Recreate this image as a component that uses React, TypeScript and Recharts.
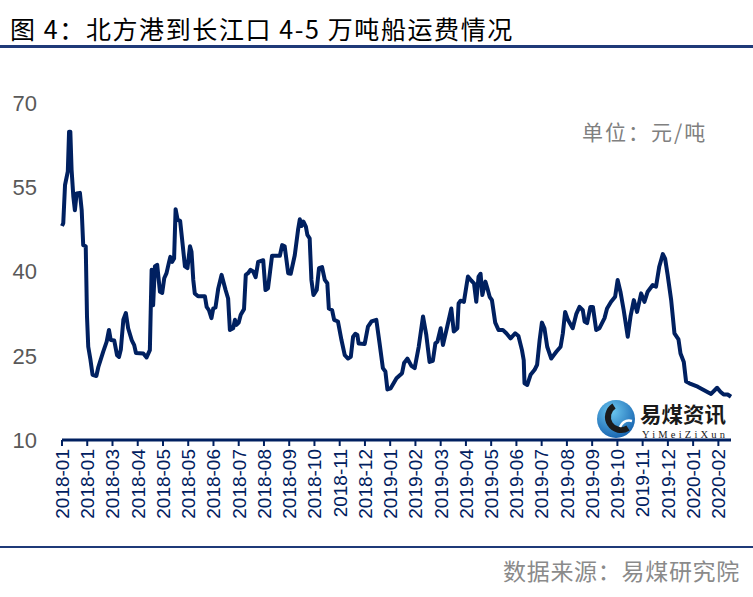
import { LineChart, Line, XAxis, YAxis } from "recharts";

// month labels under the axis, one per tick (as printed in the source, incl. the repeated 2018-01)
const monthLabels = [
  "2018-01", "2018-01", "2018-03", "2018-04", "2018-05", "2018-05", "2018-06",
  "2018-07", "2018-08", "2018-09", "2018-10", "2018-11", "2018-12", "2019-01",
  "2019-02", "2019-03", "2019-04", "2019-05", "2019-06", "2019-07", "2019-08",
  "2019-09", "2019-10", "2019-11", "2019-12", "2020-01", "2020-02"
];

const yTicks = [10, 25, 40, 55, 70];

// position along the axis, measured in tick steps (0 = first label)
const posX = [
  0, 0.05, 0.12, 0.23, 0.28, 0.33, 0.38, 0.45, 0.51, 0.58,
  0.71, 0.78, 0.84, 0.94, 0.99, 1.04, 1.12, 1.21, 1.36, 1.44,
  1.63, 1.77, 1.86, 1.93, 2.07, 2.18, 2.26, 2.33, 2.43, 2.53,
  2.62, 2.76, 2.86, 2.93, 3.22, 3.35, 3.48, 3.55, 3.61, 3.68,
  3.77, 3.88, 3.97, 4.05, 4.14, 4.23, 4.29, 4.36, 4.44, 4.5,
  4.58, 4.68, 4.76, 4.87, 4.97, 5.07, 5.13, 5.2, 5.26, 5.39,
  5.66, 5.73, 5.82, 5.92, 5.99, 6.08, 6.19, 6.32, 6.48, 6.58,
  6.65, 6.78, 6.85, 6.91, 7.0, 7.08, 7.21, 7.28, 7.37, 7.47,
  7.57, 7.67, 7.77, 7.97, 8.06, 8.16, 8.32, 8.63, 8.72, 8.82,
  8.96, 9.06, 9.22, 9.35, 9.42, 9.49, 9.56, 9.66, 9.72, 9.81,
  9.88, 9.96, 10.09, 10.18, 10.3, 10.41, 10.51, 10.57, 10.7, 10.78,
  10.93, 11.07, 11.2, 11.33, 11.44, 11.53, 11.62, 11.7, 11.75, 11.99,
  12.12, 12.26, 12.45, 12.58, 12.71, 12.81, 12.89, 13.02, 13.25, 13.47,
  13.55, 13.68, 13.84, 13.97, 14.13, 14.3, 14.43, 14.56, 14.69, 14.79,
  14.87, 15.0, 15.09, 15.26, 15.42, 15.52, 15.66, 15.71, 15.79, 15.92,
  16.08, 16.21, 16.32, 16.41, 16.5, 16.58, 16.65, 16.77, 16.85, 16.94,
  17.03, 17.16, 17.29, 17.46, 17.6, 17.77, 17.95, 18.08, 18.22, 18.29,
  18.32, 18.43, 18.56, 18.72, 18.82, 18.92, 19.01, 19.11, 19.22, 19.38,
  19.58, 19.75, 19.84, 19.93, 20.04, 20.23, 20.37, 20.5, 20.63, 20.7,
  20.8, 20.93, 21.03, 21.16, 21.29, 21.49, 21.59, 21.75, 21.91, 22.01,
  22.12, 22.25, 22.41, 22.52, 22.65, 22.78, 22.94, 23.07, 23.2, 23.4,
  23.53, 23.66, 23.8, 23.89, 23.99, 24.13, 24.26, 24.42, 24.5, 24.63,
  24.72, 24.85, 25.18, 25.71, 25.95, 26.08, 26.21, 26.37, 26.5
];

// freight, yuan per tonne
const freight = [
  48.1, 48.6, 55.4, 57.8, 64.9, 64.9, 58.1, 53.3, 50.9, 53.9,
  54.0, 50.9, 44.7, 44.5, 32.0, 26.6, 24.5, 21.6, 21.4, 23.0,
  25.7, 27.5, 29.6, 27.8, 27.7, 25.1, 24.8, 26.1, 31.4, 32.6,
  29.9, 27.8, 26.9, 25.5, 25.4, 24.7, 26.0, 40.3, 34.0, 40.9,
  41.2, 36.4, 36.2, 38.8, 39.7, 41.5, 42.6, 41.7, 42.3, 51.1,
  49.2, 49.0, 45.6, 40.9, 40.6, 44.5, 43.5, 38.5, 36.1, 35.6,
  35.6, 33.7, 33.1, 31.7, 33.4, 33.6, 37.0, 39.4, 36.7, 35.2,
  29.6, 29.9, 31.4, 30.5, 30.9, 32.3, 33.3, 39.4, 39.7, 40.3,
  40.0, 39.0, 41.7, 42.0, 36.7, 37.0, 42.8, 42.8, 44.7, 44.5,
  39.7, 39.6, 42.9, 47.4, 49.3, 48.1, 48.9, 48.0, 46.5, 45.9,
  38.5, 35.8, 36.7, 40.6, 40.8, 38.5, 37.9, 33.4, 33.1, 31.4,
  31.1, 27.8, 25.1, 24.5, 24.8, 28.4, 28.9, 28.7, 27.2, 27.1,
  30.2, 31.1, 31.4, 27.2, 22.8, 22.2, 19.0, 19.2, 21.0, 21.9,
  23.7, 24.5, 23.2, 22.8, 26.6, 32.0, 28.7, 23.9, 24.1, 27.2,
  27.5, 29.9, 26.9, 30.2, 33.4, 29.3, 29.9, 34.3, 34.8, 34.6,
  39.1, 38.4, 37.9, 34.6, 39.1, 39.6, 35.8, 38.2, 37.0, 35.5,
  34.9, 30.9, 29.6, 29.6, 29.0, 28.1, 29.0, 28.5, 26.0, 24.2,
  20.1, 19.8, 21.6, 22.5, 23.4, 27.8, 30.9, 29.9, 26.6, 24.5,
  25.7, 26.6, 29.0, 32.8, 31.4, 29.9, 32.4, 33.7, 33.1, 31.1,
  30.8, 33.7, 33.7, 29.6, 29.9, 31.7, 33.4, 34.6, 35.5, 38.5,
  36.4, 33.1, 28.4, 32.0, 34.9, 32.8, 36.1, 34.6, 36.4, 37.6,
  37.3, 40.9, 43.1, 42.3, 39.4, 34.9, 29.0, 27.9, 25.4, 23.9,
  20.4, 20.1, 19.5, 18.2, 19.3, 18.6, 18.1, 18.1, 17.7
];

const NAVY = "#002060";
const sans = "'Liberation Sans', Arial, sans-serif";
const cjk = "'Noto Sans CJK SC', 'Noto Sans', sans-serif";

const rows = posX.map((x, i) => ({ x, freight: freight[i] }));
const xTicks = monthLabels.map((_, i) => i);

function MonthTick(props: any) {
  const { x, y, payload } = props;
  return (
    <text
      x={x}
      y={y}
      dy="0.36em"
      transform={`rotate(-90, ${x}, ${y})`}
      textAnchor="end"
      fill={NAVY}
      fontSize={19}
      fontFamily={sans}
    >
      {monthLabels[Math.round(payload.value)]}
    </text>
  );
}

function Logo() {
  return (
    <svg
      width={140}
      height={46}
      style={{ position: "absolute", left: 594, top: 397 }}
    >
      <defs>
        <radialGradient id="logoBlue" cx="40%" cy="30%" r="75%">
          <stop offset="0" stopColor="#6cc8f0" />
          <stop offset="1" stopColor="#1460ad" />
        </radialGradient>
      </defs>
      <circle cx={22} cy={22} r={19} fill="url(#logoBlue)" />
      <path
        d="M 20 9 A 13 13 0 1 0 34 31"
        stroke="#1b1b1b"
        strokeWidth={6}
        fill="none"
      />
      <path
        d="M 26 30 Q 30 22 38 24"
        stroke="#ffffff"
        strokeWidth={2.5}
        fill="none"
      />
      <text
        x={46}
        y={25}
        fontSize={21}
        fontWeight={700}
        fontFamily={cjk}
        fill="#1a1a1a"
        textLength={86}
        lengthAdjust="spacingAndGlyphs"
      >
        易煤资讯
      </text>
      <text
        x={48}
        y={41}
        fontSize={10.5}
        fontFamily="'Liberation Serif', 'DejaVu Serif', serif"
        fill="#1a1a1a"
        textLength={83}
        lengthAdjust="spacing"
      >
        YiMeiZiXun
      </text>
    </svg>
  );
}

export default function App() {
  return (
    <div
      style={{
        position: "absolute",
        left: 0,
        top: 0,
        width: 753,
        height: 597,
        background: "#fff",
        overflow: "hidden"
      }}
    >
      <div
        style={{
          position: "absolute",
          left: 10,
          top: 10,
          fontSize: 25,
          lineHeight: "36px",
          fontFamily: cjk,
          color: "#000",
          letterSpacing: 1.6,
          whiteSpace: "nowrap"
        }}
      >
        图 4：北方港到长江口 4-5 万吨船运费情况
      </div>
      <div
        style={{
          position: "absolute",
          left: 0,
          top: 45,
          width: 753,
          height: 3,
          background: "#1f3a78"
        }}
      />

      <div style={{ position: "absolute", left: 0, top: 0 }}>
        <LineChart
          width={753}
          height={597}
          data={rows}
          margin={{ top: 103, right: 22, bottom: 0, left: 0 }}
        >
          <XAxis
            dataKey="x"
            type="number"
            domain={[0, 26.5]}
            ticks={xTicks}
            interval={0}
            height={157}
            axisLine={{ stroke: NAVY, strokeWidth: 3 }}
            tickLine={{ stroke: NAVY, strokeWidth: 2 }}
            tickSize={6}
            tickMargin={3}
            tick={<MonthTick />}
          />
          <YAxis
            type="number"
            domain={[10, 70]}
            ticks={yTicks}
            width={62}
            axisLine={false}
            tickLine={false}
            tickSize={6}
            tickMargin={19}
            tick={{ fill: "#595959", fontSize: 22, fontFamily: sans }}
          />
          <Line
            type="linear"
            dataKey="freight"
            stroke={NAVY}
            strokeWidth={4}
            strokeLinejoin="round"
            dot={false}
            activeDot={false}
            isAnimationActive={false}
          />
        </LineChart>
      </div>

      <div
        style={{
          position: "absolute",
          left: 582,
          top: 117,
          fontSize: 21,
          lineHeight: "28px",
          fontFamily: cjk,
          color: "#808080",
          letterSpacing: 2,
          whiteSpace: "nowrap"
        }}
      >
        单位：元/吨
      </div>

      <Logo />

      <div
        style={{
          position: "absolute",
          left: 0,
          top: 546,
          width: 753,
          height: 2,
          background: "#1f3a78"
        }}
      />
      <div
        style={{
          position: "absolute",
          right: 13,
          top: 554,
          fontSize: 23,
          lineHeight: "32px",
          fontFamily: cjk,
          color: "#8a8a8a",
          letterSpacing: 0.7,
          whiteSpace: "nowrap"
        }}
      >
        数据来源：易煤研究院
      </div>
    </div>
  );
}
